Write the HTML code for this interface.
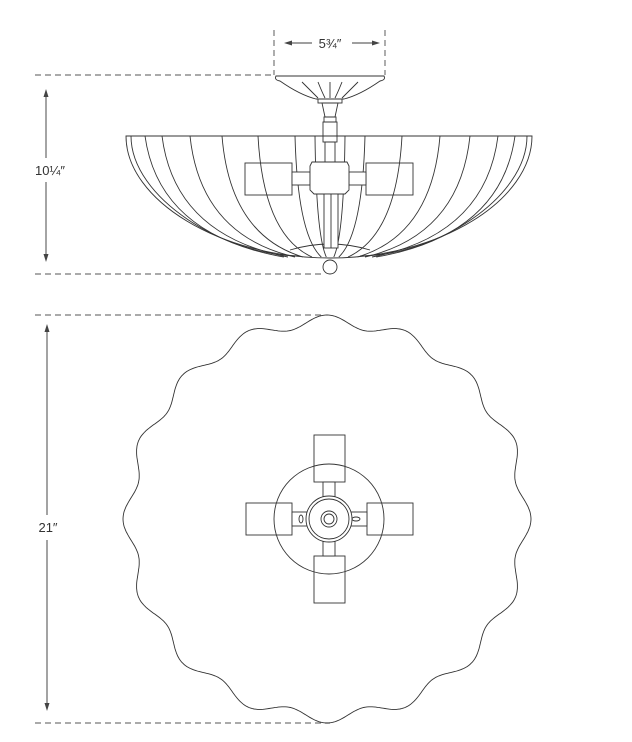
<!DOCTYPE html>
<html><head><meta charset="utf-8"><style>
html,body{margin:0;padding:0;background:#fff;width:632px;height:742px;overflow:hidden}
svg{display:block}
text{font-family:"Liberation Sans",sans-serif;fill:#333}
</style></head><body>
<svg id="s" width="632" height="742" viewBox="0 0 632 742" xmlns="http://www.w3.org/2000/svg">
<g stroke="#777" stroke-width="1.2" fill="none" stroke-dasharray="6,4">
<line x1="274" y1="30" x2="274" y2="75"/><line x1="385" y1="30" x2="385" y2="75"/>
<line x1="35" y1="75" x2="274" y2="75"/>
<line x1="35" y1="274" x2="325" y2="274"/>
<line x1="35" y1="315" x2="325" y2="315"/>
<line x1="35" y1="723" x2="330" y2="723"/>
</g>
<g stroke="#666" stroke-width="1.2" fill="none">
<line x1="290" y1="43" x2="312" y2="43"/><line x1="352" y1="43" x2="374" y2="43"/>
<line x1="46" y1="95" x2="46" y2="158"/><line x1="46" y1="182" x2="46" y2="256"/>
<line x1="47" y1="330" x2="47" y2="515"/><line x1="47" y1="540" x2="47" y2="705"/>
</g>
<g fill="#444">
<polygon points="284,43 292,40.5 292,45.5"/><polygon points="380,43 372,40.5 372,45.5"/>
<polygon points="46,89 43.5,97 48.5,97"/><polygon points="46,262 43.5,254 48.5,254"/>
<polygon points="47,324 44.5,332 49.5,332"/><polygon points="47,711 44.5,703 49.5,703"/>
</g>
<text x="330" y="48" font-size="13" text-anchor="middle">5¾″</text>
<text x="50" y="175" font-size="13" text-anchor="middle">10¼″</text>
<text x="48" y="532" font-size="13" text-anchor="middle">21″</text>
<g id="g" stroke="#333" stroke-width="0.9" fill="none">
<path d="M276,76 L384,76 Q386,80 380,81 Q360,95 344,99 L316,99 Q300,95 280,81 Q274,80 276,76 Z"/>
<path d="M302,82 Q312,92 318,98 M318,82 Q322,92 325,98 M342,82 Q338,92 335,98 M358,82 Q348,92 342,98 M330,82 L330,98"/>
<rect x="318" y="99" width="24" height="4"/>
<path d="M322,103 L338,103 L335,117 L325,117 Z"/>
<rect x="324" y="117" width="12" height="5"/>
<rect x="323" y="122" width="14" height="20"/>
<rect x="325" y="142" width="10" height="20"/>
<path d="M126,136 L532,136 C532,200 440,258 330,258 C220,258 126,200 126,136 Z"/>
<path d="M131,136 C131,198 225,256 300,256 M527,136 C527,198 435,256 360,256"/>
<g id="ribs"></g>
<path d="M290,250 Q330,238 370,250"/>
<rect x="245" y="163" width="47" height="32"/>
<rect x="366" y="163" width="47" height="32"/>
<rect x="292" y="172" width="18" height="13" fill="#fff"/>
<rect x="349" y="172" width="17" height="13" fill="#fff"/>
<path d="M312,162 L347,162 L349,166 L349,190 L345,194 L314,194 L310,190 L310,166 Z" fill="#fff"/>
<rect x="324" y="194" width="14" height="54" fill="#fff"/>
<line x1="331" y1="194" x2="331" y2="248"/>
<circle cx="330" cy="267" r="7" fill="#fff"/>
<path id="scal"/>
<circle cx="329" cy="519" r="55"/>
<rect x="314" y="435" width="31" height="47"/>
<rect x="314" y="556" width="31" height="47"/>
<rect x="246" y="503" width="46" height="32"/>
<rect x="367" y="503" width="46" height="32"/>
<rect x="323" y="482" width="12" height="16" fill="#fff"/>
<rect x="323" y="540" width="12" height="16" fill="#fff"/>
<rect x="292" y="512" width="16" height="14" fill="#fff"/>
<rect x="350" y="512" width="17" height="14" fill="#fff"/>
<ellipse cx="301" cy="519" rx="2" ry="4"/>
<ellipse cx="356" cy="519" rx="4" ry="2"/>
<circle cx="329" cy="519" r="23" fill="#fff"/>
<circle cx="329" cy="519" r="20"/>
<circle cx="329" cy="519" r="8"/>
<circle cx="329" cy="519" r="5"/>
</g>
</svg>
<script>
(function(){
var d="",cx=327,cy=519,R=198,a=6,n=16;
for(var i=0;i<=720;i++){var t=i/720*2*Math.PI;var r=R+a*Math.cos(n*(t+Math.PI/2));
var x=cx+r*Math.cos(t),y=cy+r*Math.sin(t);d+=(i?"L":"M")+x.toFixed(1)+","+y.toFixed(1);}
document.getElementById("scal").setAttribute("d",d+"Z");
var g=document.getElementById("ribs"),s="";
var xs=[145,162,190,222,258,295,315,345,365,402,440,470,498,515];
for(var j=0;j<xs.length;j++){var x0=xs[j];var bx=330+(x0-330)*0.25;
var cxp=x0+(bx-x0)*0.1;s+='<path d="M'+x0+',136 Q'+cxp+',235 '+bx.toFixed(1)+',257"/>';}
g.innerHTML=s;
})();
</script>
</body></html>
